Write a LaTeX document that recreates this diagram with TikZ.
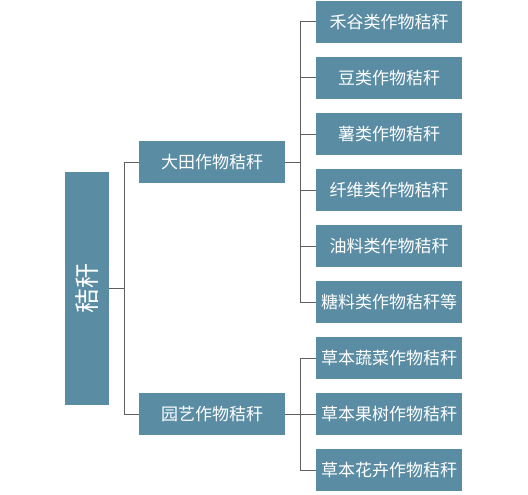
\documentclass[tikz,border=0pt]{standalone}
\usepackage{fontspec}
\newfontfamily\cjk{Noto Sans CJK SC}
\usetikzlibrary{calc, positioning}
\definecolor{boxblue}{RGB}{90,141,164}
\definecolor{linegray}{RGB}{95,95,95}

\tikzset{
  cell/.style={fill=boxblue, text=white, inner sep=0pt, font=\cjk\fontsize{17}{17}\selectfont},
  leafbox/.style={cell, minimum width=146pt, minimum height=42pt},
  midbox/.style={cell, minimum width=146pt, minimum height=42pt},
  rootbox/.style={cell, minimum width=233pt, minimum height=44pt, rotate=90,
    font=\cjk\fontsize{25}{25}\selectfont},
  link/.style={draw=linegray, line width=1pt}
}

\begin{document}
\begin{tikzpicture}[x=1pt, y=-1pt]
\useasboundingbox (0,0) rectangle (528,495);

\def\leafx{389}
\def\pitch{56}

% root and middle level
\node[rootbox] (R) at (87,288) {秸秆};
\node[midbox] (M1) at (212,162) {大田作物秸秆};
\node[midbox] (M2) at (212,414) {园艺作物秸秆};

% leaves
\foreach \txt [count=\i] in {禾谷类作物秸秆, 豆类作物秸秆, 薯类作物秸秆,
    纤维类作物秸秆, 油料类作物秸秆, 糖料类作物秸秆等,
    草本蔬菜作物秸秆, 草本果树作物秸秆, 草本花卉作物秸秆}
  \node[leafbox] (L\i) at (\leafx, {22+\pitch*(\i-1)}) {\txt};

% junctions
\coordinate (J0) at (124,288);
\coordinate (J1) at (300,162);
\coordinate (J2) at (300,414);

% root to middle
\draw[link] (R.south) -- (J0);
\draw[link] (M1.west -| J0) -- (M2.west -| J0);
\draw[link] (M1.west -| J0) -- (M1.west);
\draw[link] (M2.west -| J0) -- (M2.west);

% middle to leaves
\draw[link] (M1.east) -- (J1);
\draw[link] (L1.west -| J1) -- (L6.west -| J1);
\foreach \i in {1,...,6}
  \draw[link] (L\i.west -| J1) -- (L\i.west);

\draw[link] (M2.east) -- (J2);
\draw[link] (L7.west -| J2) -- (L9.west -| J2);
\foreach \i in {7,8,9}
  \draw[link] (L\i.west -| J2) -- (L\i.west);
\end{tikzpicture}
\end{document}
